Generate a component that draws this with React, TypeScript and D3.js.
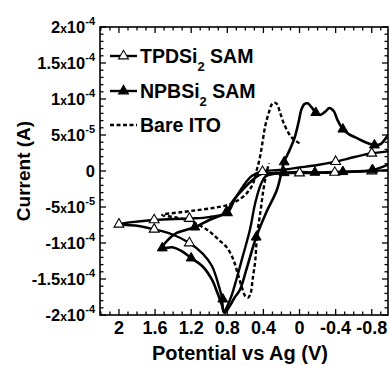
import React from "react";
import * as d3 from "d3";

const W = 389;
const H = 366;
const PL = 100, PR = 388, PT = 27, PB = 315;

const xTicks = [2, 1.6, 1.2, 0.8, 0.4, 0, -0.4, -0.8];
const xTickLabels = ["2", "1.6", "1.2", "0.8", "0.4", "0", "-0.4", "-0.8"];
const yTicks = [2e-4, 1.5e-4, 1e-4, 5e-5, 0, -5e-5, -1e-4, -1.5e-4, -2e-4];
const yTickMantissa = ["2", "1.5", "1", "5", "0", "-5", "-1", "-1.5", "-2"];
const yTickExponent = ["-4", "-4", "-4", "-5", "", "-5", "-4", "-4", "-4"];

// TPDSi2 SAM (hollow triangles)
const tpdV = [-1.0, -0.96, -0.8, -0.61, -0.4, -0.2, 0, 0.22, 0.42, 0.53, 0.63, 0.72, 0.8, 1.0, 1.22, 1.61, 2.0,
  1.8, 1.61, 1.42, 1.22, 1.07, 0.97, 0.9, 0.86, 0.84,
  0.8, 0.75, 0.7, 0.63, 0.55, 0.49, 0.43, 0.38, 0.28, 0, -0.39, -0.8, -1.0];
const tpdI = [2.85e-5, 2.7e-5, 2.46e-5, 1.94e-5, 1.3e-5, 0.83e-5, 0.49e-5, 0.14e-5, -0.07e-5, -0.7e-5, -2.2e-5, -4.0e-5, -5.8e-5, -6.4e-5, -6.6e-5, -6.8e-5, -7.4e-5,
  -7.6e-5, -8.1e-5, -8.75e-5, -10.0e-5, -11.5e-5, -13.2e-5, -15.7e-5, -17.6e-5, -19.6e-5,
  -18.75e-5, -17.2e-5, -15.1e-5, -11.9e-5, -8.2e-5, -4.4e-5, -1.9e-5, -0.8e-5, -0.4e-5, -0.28e-5, -0.2e-5, 0, 0.14e-5];
const tpdMarkV = [2.0, 1.61, 1.61, 1.22, 1.22, 0.8, 0.41, 0, -0.39, -0.4, -0.8, -0.8];
const tpdMarkI = [-7.4e-5, -6.8e-5, -8.1e-5, -6.6e-5, -10.0e-5, -5.8e-5, -0.1e-5, -0.28e-5, -0.2e-5, 1.3e-5, 2.46e-5, 0];

// NPBSi2 SAM (filled triangles)
const npbV = [-1.0, -0.81, -0.48, -0.17, 0, 0.28, 0.42, 0.52, 0.63, 0.74, 0.81, 1.0, 1.16, 1.36, 1.46, 1.52,
  1.41, 1.31, 1.2, 1.07, 0.97, 0.91, 0.86, 0.83,
  0.78, 0.72, 0.66, 0.58, 0.48, 0.37, 0.25, 0.17, 0.11, 0.055, 0.01, -0.02, -0.055, -0.09, -0.13, -0.18, -0.23, -0.29, -0.33, -0.38, -0.42, -0.48, -0.55, -0.63, -0.73, -0.83, -0.9, -0.94, -1.0];
const npbI = [1.0e-5, 0.14e-5, -0.1e-5, -0.2e-5, -0.14e-5, -0.3e-5, -0.4e-5, -1.25e-5, -2.6e-5, -4.2e-5, -5.7e-5, -6.8e-5, -7.8e-5, -8.6e-5, -9.6e-5, -10.7e-5,
  -10.6e-5, -11.1e-5, -12.1e-5, -13.3e-5, -15.1e-5, -16.9e-5, -18.6e-5, -19.7e-5,
  -18.9e-5, -17.6e-5, -16.5e-5, -13.3e-5, -9.2e-5, -5.8e-5, -2.6e-5, 1.25e-5, 2.9e-5, 4.6e-5, 6.8e-5, 8.5e-5, 9.3e-5, 9.4e-5, 8.9e-5, 8.1e-5, 7.8e-5, 8.3e-5, 8.75e-5, 8.3e-5, 7.1e-5, 5.8e-5, 5.1e-5, 4.6e-5, 4.0e-5, 3.6e-5, 3.75e-5, 4.3e-5, 5.3e-5];
const npbMarkV = [1.52, 1.16, 0.81, 1.2, 0.85, 0.48, 0.17, -0.18, -0.48, -0.83, 0.17, -0.17, -0.48, -0.81];
const npbMarkI = [-10.7e-5, -7.8e-5, -5.7e-5, -12.1e-5, -17.8e-5, -9.2e-5, 1.25e-5, 8.1e-5, 5.8e-5, 3.6e-5, -0.25e-5, -0.2e-5, -0.1e-5, 0.14e-5];

// Bare ITO (dashed)
const itoV = [0, 0.09, 0.17, 0.22, 0.25, 0.28, 0.31, 0.34, 0.38, 0.41, 0.44, 0.48, 0.52, 0.6, 0.7, 0.79, 0.94, 1.11, 1.3, 1.52,
  1.35, 1.2, 1.02, 0.89, 0.8, 0.73, 0.69, 0.64, 0.6, 0.57, 0.54, 0.52, 0.49, 0.47, 0.43, 0.4, 0.37, 0.34];
const itoI = [3.85e-5, 4.7e-5, 6.5e-5, 8.3e-5, 9.3e-5, 9.5e-5, 9.2e-5, 8.1e-5, 6.25e-5, 4.0e-5, 1.8e-5, -0.14e-5, -1.9e-5, -3.3e-5, -4.2e-5, -4.7e-5, -5.1e-5, -5.4e-5, -5.7e-5, -6.1e-5,
  -6.5e-5, -7.0e-5, -8.2e-5, -9.6e-5, -10.7e-5, -12.4e-5, -14.0e-5, -16.1e-5, -17.4e-5, -17.6e-5, -16.9e-5, -15.1e-5, -12.4e-5, -8.9e-5, -5.4e-5, -2.6e-5, -0.55e-5, 1.1e-5];

const FONT = "'Liberation Sans', Arial, sans-serif";

export default function App() {
  const x = d3.scaleLinear().domain([2.21, -0.98]).range([PL, PR]);
  const y = d3.scaleLinear().domain([-2e-4, 2e-4]).range([PB, PT]);
  const line = d3.line<[number, number]>()
    .x((d) => x(d[0]))
    .y((d) => y(d[1]))
    .curve(d3.curveCatmullRom.alpha(0.5));
  const zip = (a: number[], b: number[]) => a.map((v, i) => [v, b[i]] as [number, number]);
  const tri = d3.symbol(d3.symbolTriangle, 42)() as string;

  const xMinor = d3.range(-9, 23).map((i) => i / 10);
  const yMinor = d3.range(-20, 21).map((i) => i * 1e-5);

  const legend = [
    { name: "TPDSi", sub: "2", rest: " SAM", dash: "", mark: "hollow" },
    { name: "NPBSi", sub: "2", rest: " SAM", dash: "", mark: "filled" },
    { name: "Bare ITO", sub: "", rest: "", dash: "4,2.5", mark: "" },
  ];
  const legendY = [56, 91, 125];

  return (
    <svg width={W} height={H} style={{ display: "block", position: "absolute", left: 0, top: 0, background: "#fff" }} fontFamily={FONT}>
      <defs>
        <clipPath id="plotclip">
          <rect x={PL} y={PT} width={PR - PL} height={PB - PT} />
        </clipPath>
      </defs>
      {/* frame */}
      <rect x={PL} y={PT} width={PR - PL} height={PB - PT} fill="none" stroke="#000" strokeWidth={1.6} />
      {/* x ticks */}
      {xMinor.map((v, i) => {
        const major = xTicks.some((t) => Math.abs(t - v) < 1e-6);
        const len = major ? 6 : 3.5;
        return (
          <g key={"xm" + i}>
            <line x1={x(v)} x2={x(v)} y1={PB} y2={PB - len} stroke="#000" strokeWidth={1.3} />
            <line x1={x(v)} x2={x(v)} y1={PT} y2={PT + len} stroke="#000" strokeWidth={1.3} />
          </g>
        );
      })}
      {yMinor.map((v, i) => {
        const major = yTicks.some((t) => Math.abs(t - v) < 1e-9);
        const len = major ? 6 : 3.5;
        return (
          <g key={"ym" + i}>
            <line x1={PL} x2={PL + len} y1={y(v)} y2={y(v)} stroke="#000" strokeWidth={1.3} />
            <line x1={PR} x2={PR - len} y1={y(v)} y2={y(v)} stroke="#000" strokeWidth={1.3} />
          </g>
        );
      })}
      {/* x tick labels */}
      {xTicks.map((t, i) => (
        <text key={"xl" + i} x={x(t)} y={PB + 19} fontSize={18} fontWeight="bold" textAnchor="middle">
          {xTickLabels[i]}
        </text>
      ))}
      {/* y tick labels */}
      {yTicks.map((t, i) => (
        <text key={"yl" + i} x={95} y={y(t) + 6} fontSize={16.5} fontWeight="bold" textAnchor="end">
          {yTickExponent[i] === "" ? (
            yTickMantissa[i]
          ) : (
            <>
              <tspan>{yTickMantissa[i]}</tspan>
              <tspan fontSize={12}>x</tspan>
              <tspan>10</tspan>
              <tspan fontSize={11} dy={-8}>{yTickExponent[i]}</tspan>
            </>
          )}
        </text>
      ))}
      {/* axis titles */}
      <text x={240} y={360} fontSize={20} fontWeight="bold" textAnchor="middle">Potential vs Ag (V)</text>
      <text transform={`translate(30,${(PT + PB) / 2}) rotate(-90)`} fontSize={19} fontWeight="bold" textAnchor="middle">Current (A)</text>

      {/* curves */}
      <g clipPath="url(#plotclip)" fill="none" stroke="#000">
        <path d={line(zip(itoV, itoI)) as string} strokeWidth={2.4} strokeDasharray="4,2.5" />
        <path d={line(zip(tpdV, tpdI)) as string} strokeWidth={2.4} />
        <path d={line(zip(npbV, npbI)) as string} strokeWidth={2.6} />
        {tpdMarkV.map((v, i) => (
          <path key={"tm" + i} d={tri} transform={`translate(${x(v)},${y(tpdMarkI[i])})`} fill="#fff" stroke="#000" strokeWidth={1.1} />
        ))}
        {npbMarkV.map((v, i) => (
          <path key={"nm" + i} d={tri} transform={`translate(${x(v)},${y(npbMarkI[i])})`} fill="#000" stroke="#000" strokeWidth={1} />
        ))}
      </g>

      {/* legend */}
      {legend.map((l, i) => (
        <g key={"lg" + i}>
          <line x1={110} x2={137} y1={legendY[i]} y2={legendY[i]} stroke="#000" strokeWidth={2.4} strokeDasharray={l.dash || undefined} />
          {l.mark && (
            <path d={tri} transform={`translate(123.5,${legendY[i]})`} fill={l.mark === "filled" ? "#000" : "#fff"} stroke="#000" strokeWidth={1.1} />
          )}
          <text x={140} y={legendY[i] + 7} fontSize={19.5} fontWeight="bold">
            <tspan>{l.name}</tspan>
            {l.sub && <tspan fontSize={13} dy={8}>{l.sub}</tspan>}
            {l.rest && <tspan dy={l.sub ? -8 : 0}>{l.rest}</tspan>}
          </text>
        </g>
      ))}
    </svg>
  );
}
